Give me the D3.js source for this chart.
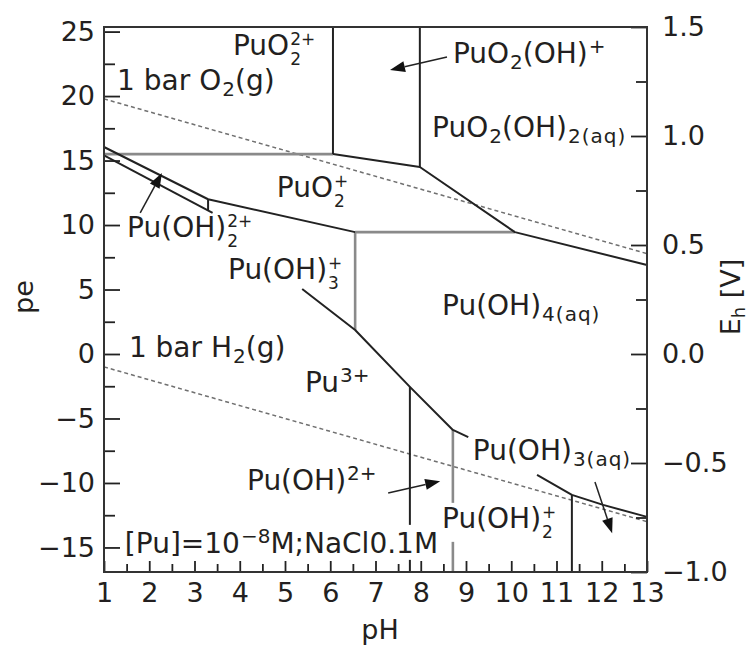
<!DOCTYPE html>
<html><head><meta charset="utf-8">
<script src="https://cdn.jsdelivr.net/npm/d3@7"></script>
<style>
body{margin:0;background:#fff}
svg text{font-family:"DejaVu Sans",sans-serif;fill:#231f20}
</style>
</head><body>
<svg id="c" width="754" height="646"></svg>
<script>
// ---------- data ----------
const phMajor = [1,2,3,4,5,6,7,8,9,10,11,12,13];
const phMinor = [1.5,2.5,3.5,4.5,5.5,6.5,7.5,8.5,9.5,10.5,11.5,12.5];
const peMajor = [-15,-10,-5,0,5,10,15,20,25];
const peMinor = [-12.5,-7.5,-2.5,2.5,7.5,12.5,17.5,22.5];
const ehMajor = [-1.0,-0.5,0.0,0.5,1.0,1.5];
const ehMinor = [-0.75,-0.25,0.25,0.75,1.25];

// boundaries in (pH, pe)
const blackLines = [
  [[6.06,25.35],[6.06,15.5]],
  [[7.98,25.35],[7.98,14.5]],
  [[6.06,15.5],[7.98,14.5],[10.08,9.45],[13.0,6.9]],
  [[1.0,16.05],[3.30,12.0],[6.55,9.45]],
  [[1.0,15.4],[3.40,10.95]],
  [[3.30,12.0],[3.30,11.1]],
  [[5.38,5.04],[6.55,1.86],[7.76,-2.55],[8.71,-5.89],[9.05,-6.45]],
  [[7.76,-2.55],[7.76,-16.9]],
  [[10.57,-9.38],[11.34,-10.92],[12.03,-11.7],[13.0,-12.63]],
  [[11.34,-10.92],[11.34,-16.9]]
];
const grayLines = [
  [[1.0,15.5],[6.06,15.5]],
  [[6.55,9.45],[10.08,9.45]],
  [[6.55,9.45],[6.55,1.86]],
  [[8.71,-5.89],[8.71,-16.9]]
];
const o2Line = [[1,19.78],[13,7.78]];
const h2Line = [[1,-1],[13,-13]];

const arrows = [
  {from:[8.58,23.03], to:[7.32,22.02]},
  {from:[1.80,10.95], to:[2.28,14.04]},
  {from:[7.28,-10.77], to:[8.43,-9.86]},
  {from:[11.85,-9.92], to:[12.23,-13.9]}
];

// label anchors (pH, pe of left baseline) and rich parts
const labels = [
  {at:[3.85,23.18], parts:[["n","PuO"],["s","2+","2"]]},
  {at:[1.29,20.47], parts:[["n","1 bar O"],["b","2"],["n","(g)"]]},
  {at:[8.71,22.56], parts:[["n","PuO"],["b","2"],["n","(OH)"],["p","+"]]},
  {at:[8.25,16.83], parts:[["n","PuO"],["b","2"],["n","(OH)"],["b","2(aq)"]]},
  {at:[4.82,12.18], parts:[["n","PuO"],["s","+","2"]]},
  {at:[1.51,9.08], parts:[["n","Pu(OH)"],["s","2+","2"]]},
  {at:[3.74,5.85], parts:[["n","Pu(OH)"],["s","+","3"]]},
  {at:[1.55,-0.23], parts:[["n","1 bar H"],["b","2"],["n","(g)"]]},
  {at:[5.44,-2.94], parts:[["n","Pu"],["p","3+"]]},
  {at:[8.47,3.03], parts:[["n","Pu(OH)"],["b","4(aq)"]]},
  {at:[9.15,-8.21], parts:[["n","Pu(OH)"],["b","3(aq)"]], bg:true},
  {at:[4.16,-10.54], parts:[["n","Pu(OH)"],["p","2+"]]},
  {at:[1.46,-15.42], parts:[["n","[Pu]=10"],["p","−8"],["n","M;NaCl0.1M"]], bg:true},
  {at:[8.47,-13.48], parts:[["n","Pu(OH)"],["s","+","2"]], bg:true}
];

// ---------- chart ----------
const svg = d3.select("#c");
const L = 104, R = 647, T = 27, B = 572;
const K = 0.05916;
const x = d3.scaleLinear([1,13],[L,R]);
const eh = d3.scaleLinear([-1.0,1.5],[B,T]);
const y = d3.scaleLinear([-1.0/K,1.5/K],[B,T]);
const FS = 28, TFS = 27, SFS = 20, STK = 17;

const line = d3.line().x(d=>x(d[0])).y(d=>y(d[1]));

// dashed water lines
[o2Line,h2Line].forEach(d=>svg.append("path").attr("d",line(d))
  .attr("fill","none").attr("stroke","#707070").attr("stroke-width",1.5).attr("stroke-dasharray","4 3"));

grayLines.forEach(d=>svg.append("path").attr("d",line(d))
  .attr("fill","none").attr("stroke","#8a8a8a").attr("stroke-width",2.6));
blackLines.forEach(d=>svg.append("path").attr("d",line(d))
  .attr("fill","none").attr("stroke","#222").attr("stroke-width",2).attr("stroke-linejoin","round"));

// arrows
arrows.forEach(a=>{
  const x1=x(a.from[0]), y1=y(a.from[1]), x2=x(a.to[0]), y2=y(a.to[1]);
  const ang=Math.atan2(y2-y1,x2-x1), HL=15, HW=5.5;
  const bx=x2-HL*Math.cos(ang), by=y2-HL*Math.sin(ang);
  svg.append("line").attr("x1",x1).attr("y1",y1).attr("x2",bx).attr("y2",by)
    .attr("stroke","#222").attr("stroke-width",1.5);
  const px=-Math.sin(ang)*HW, py=Math.cos(ang)*HW;
  svg.append("polygon").attr("points",[[x2,y2],[bx+px,by+py],[bx-px,by-py]].map(p=>p.join(",")).join(" "))
    .attr("fill","#111");
});

// text measuring helper
const meas = svg.append("text").attr("x",-1000).attr("y",-1000);
function width(str, size, ls){
  meas.style("font-size",size+"px").style("letter-spacing",ls||"0px").text(str);
  return meas.node().getComputedTextLength();
}

// rich labels: one <text> per label with absolutely placed tspans
function rich(g, x0, y0, parts){
  const t = g.append("text");
  let cx = x0;
  parts.forEach(p=>{
    if(p[0]==="s"){
      t.append("tspan").attr("x",cx+1).attr("y",y0-10).style("font-size",STK+"px").text(p[1]);
      t.append("tspan").attr("x",cx+1).attr("y",y0+10).style("font-size",STK+"px").text(p[2]);
      cx += 1+Math.max(width(p[1],STK), width(p[2],STK));
    } else if(p[0]==="n"){
      t.append("tspan").attr("x",cx).attr("y",y0).style("font-size",FS+"px").text(p[1]);
      cx += width(p[1],FS);
    } else {
      const dy = p[0]==="b"?6:-10;
      const ls = p[1].length>2?"1px":"0px";
      t.append("tspan").attr("x",cx+1).attr("y",y0+dy)
        .style("font-size",SFS+"px").style("letter-spacing",ls).text(p[1]);
      cx += 1+width(p[1],SFS,ls);
    }
  });
}
labels.forEach(lb=>{
  const g=svg.append("g");
  rich(g, x(lb.at[0]), y(lb.at[1]), lb.parts);
  if(lb.bg){
    const bb=g.node().getBBox();
    g.insert("rect",":first-child").attr("x",bb.x-2).attr("y",bb.y+1)
      .attr("width",bb.width+4).attr("height",bb.height-1).attr("fill","#fff");
  }
});
meas.remove();

// axes (ticks inward)
function styleAxis(g){
  g.select(".domain").remove();
  g.selectAll(".tick line").attr("stroke","#222").attr("stroke-width",1.8);
  g.selectAll(".tick text").style("font-size",TFS+"px").attr("fill","#231f20")
    .style("font-family","'DejaVu Sans',sans-serif");
}
svg.append("g").attr("transform",`translate(${L},0)`)
  .call(d3.axisLeft(y).tickValues(peMinor).tickSize(-11).tickFormat("")).call(styleAxis);
svg.append("g").attr("transform",`translate(${L},0)`)
  .call(d3.axisLeft(y).tickValues(peMajor).tickSize(-16).tickPadding(9).tickFormat(d3.format("d"))).call(styleAxis);
svg.append("g").attr("transform",`translate(${R},0)`)
  .call(d3.axisRight(eh).tickValues(ehMinor).tickSize(-11).tickFormat("")).call(styleAxis);
svg.append("g").attr("transform",`translate(${R},0)`)
  .call(d3.axisRight(eh).tickValues(ehMajor).tickSize(-16).tickPadding(15).tickFormat(d3.format(".1f"))).call(styleAxis);
svg.append("g").attr("transform",`translate(0,${B})`)
  .call(d3.axisBottom(x).tickValues(phMinor).tickSize(-8).tickFormat("")).call(styleAxis);
svg.append("g").attr("transform",`translate(0,${B})`)
  .call(d3.axisBottom(x).tickValues(phMajor).tickSize(-11).tickPadding(11).tickFormat(d3.format("d"))).call(styleAxis);

// frame
svg.append("rect").attr("x",L).attr("y",T).attr("width",R-L).attr("height",B-T)
  .attr("fill","none").attr("stroke","#333").attr("stroke-width",2);

// axis titles
svg.append("text").attr("transform","translate(33,297) rotate(-90)").attr("text-anchor","middle")
  .style("font-size",TFS+"px").text("pe");
const eht = svg.append("text").attr("transform","translate(740,297) rotate(-90)").attr("text-anchor","middle")
  .style("font-size",TFS+"px");
eht.append("tspan").text("E");
eht.append("tspan").attr("dy",5).style("font-size","18px").text("h");
eht.append("tspan").attr("dy",-5).text(" [V]");
svg.append("text").attr("x",380).attr("y",639).attr("text-anchor","middle")
  .style("font-size",TFS+"px").text("pH");
</script>
</body></html>
